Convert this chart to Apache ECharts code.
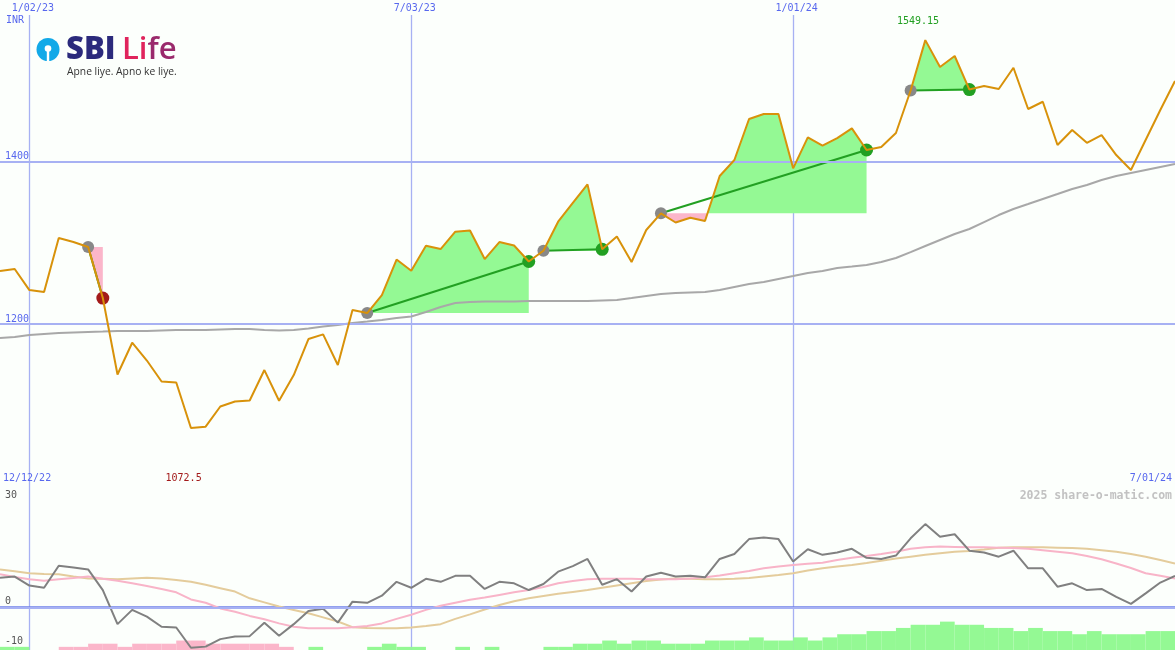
<!DOCTYPE html>
<html><head><meta charset="utf-8">
<script src="https://cdn.jsdelivr.net/npm/echarts@6/dist/echarts.min.js"></script>
<style>html,body{margin:0;padding:0;background:#fcfffc}#c{width:1175px;height:650px}</style>
</head><body><div id="c"></div>
<script>
// ---- categories (weekly, Mondays) ----
const weeks = ['12/19/22','12/26/22',
 '1/02/23','1/09/23','1/16/23','1/23/23','1/30/23','2/06/23','2/13/23','2/20/23','2/27/23','3/06/23','3/13/23','3/20/23','3/27/23',
 '4/03/23','4/10/23','4/17/23','4/24/23','5/01/23','5/08/23','5/15/23','5/22/23','5/29/23','6/05/23','6/12/23','6/19/23','6/26/23',
 '7/03/23','7/10/23','7/17/23','7/24/23','7/31/23','8/07/23','8/14/23','8/21/23','8/28/23','9/04/23','9/11/23','9/18/23','9/25/23',
 '10/02/23','10/09/23','10/16/23','10/23/23','10/30/23','11/06/23','11/13/23','11/20/23','11/27/23','12/04/23','12/11/23','12/18/23','12/25/23',
 '1/01/24','1/08/24','1/15/24','1/22/24','1/29/24','2/05/24','2/12/24','2/19/24','2/26/24','3/04/24','3/11/24','3/18/24','3/25/24',
 '4/01/24','4/08/24','4/15/24','4/22/24','4/29/24','5/06/24','5/13/24','5/20/24','5/27/24','6/03/24','6/10/24','6/17/24','6/24/24','7/01/24'];
const periodStart = '12/12/22';
const gridDates = ['1/02/23','7/03/23','1/01/24'];
const priceTicks = [1200, 1400];
const oscTicks = [30, 0, -10];
const oscZero = [0];
const currency = 'INR';

// ---- price (weekly close) ----
const price = [1265.4,1267.9,1242.0,1239.6,1305.9,1301.0,1294.9,1232.2,1138.2,1177.3,
 1155.4,1129.6,1128.4,1072.5,1074.1,1098.9,1105.0,1106.3,1143.7,1106.0,
 1137.6,1181.8,1187.6,1149.9,1217.5,1213.8,1235.9,1279.5,1265.8,1296.5,
 1292.4,1313.7,1315.2,1280.1,1301.0,1296.7,1277.1,1290.3,1326.0,1349.0,
 1371.9,1292.1,1307.8,1276.5,1315.8,1336.3,1325.0,1330.9,1326.8,1382.1,
 1401.8,1452.2,1458.3,1458.3,1391.6,1429.7,1419.4,1428.8,1440.7,1414.1,
 1417.8,1435.0,1487.2,1549.15,1516.1,1529.6,1488.4,1492.7,1489.0,1515.2,
 1464.5,1473.4,1420.2,1438.7,1423.0,1432.5,1407.9,1389.5,1426.4,1463.2,1498.9];

// ---- long moving average ----
const ma = [1183.1,1184.3,1186.8,1188.0,1189.2,1189.8,1190.4,1191.0,1191.7,1191.7,
 1191.7,1192.3,1192.9,1192.9,1192.9,1193.5,1194.1,1194.1,1192.9,1192.3,
 1192.9,1194.7,1197.2,1199.0,1201.5,1203.3,1205.2,1207.6,1209.5,1215.0,
 1221.2,1226.1,1227.3,1227.9,1227.9,1227.9,1228.5,1228.5,1228.5,1228.5,
 1228.5,1229.2,1229.8,1232.2,1234.7,1237.1,1238.4,1239.0,1239.6,1242.0,
 1245.8,1249.4,1251.9,1255.6,1259.2,1262.9,1265.4,1269.1,1270.9,1272.8,
 1276.5,1281.4,1288.7,1296.1,1303.5,1310.9,1317.0,1325.6,1334.2,1341.6,
 1347.7,1353.9,1360.0,1366.2,1371.1,1377.2,1382.1,1385.8,1389.5,1393.2,1396.9];

// ---- trades: [entry index, exit index] ----
const tradeEntries = [6, 25, 37, 45, 62];
const tradeExits   = [7, 36, 41, 59, 66];

// ---- lower panel oscillator ----
const osc = [8.0,8.3,5.9,5.3,11.2,10.7,10.2,4.7,-4.4,-0.6,
 -2.4,-5.1,-5.3,-10.7,-10.4,-8.4,-7.7,-7.6,-4.0,-7.5,
 -4.4,-0.9,-0.3,-4.0,1.6,1.3,3.2,6.9,5.3,7.7,
 6.9,8.5,8.5,5.0,6.9,6.5,4.7,6.3,9.6,11.1,
 13.0,6.1,7.6,4.3,8.3,9.3,8.3,8.5,8.1,13.0,
 14.3,18.3,18.7,18.3,12.3,15.6,14.1,14.7,15.7,13.3,
 13.0,13.9,18.5,22.3,18.9,19.6,15.2,14.7,13.6,15.2,
 10.5,10.5,5.6,6.5,4.7,5.0,2.9,1.0,3.8,6.7,8.5];
const oscSignal = [8.9,8.2,7.6,7.2,7.6,7.9,8.3,7.7,7.2,6.5,
 5.8,5.0,4.1,2.2,1.3,-0.2,-1.1,-2.2,-3.1,-4.2,
 -5.1,-5.5,-5.5,-5.5,-5.2,-4.9,-4.2,-3.0,-1.9,-0.6,
 0.5,1.3,2.1,2.7,3.4,4.1,4.7,5.5,6.5,7.1,
 7.6,7.7,7.7,7.7,7.6,7.6,7.6,7.8,8.1,8.6,
 9.2,9.8,10.5,11.0,11.4,11.7,12.0,12.7,13.3,13.8,
 14.3,14.9,15.7,16.1,16.3,16.2,16.1,16.1,16.0,15.9,
 15.7,15.3,14.9,14.5,13.8,12.9,11.8,10.6,9.2,8.5,7.8];
const oscSlow = [10.2,9.7,9.2,9.0,8.9,8.3,7.8,7.7,7.6,7.8,
 8.0,7.8,7.4,6.9,6.1,5.2,4.3,2.5,1.4,0.3,
 -0.6,-1.5,-2.6,-3.7,-5.2,-5.4,-5.5,-5.5,-5.3,-4.9,
 -4.4,-3.0,-1.8,-0.5,0.7,1.7,2.5,3.1,3.7,4.2,
 4.7,5.3,5.9,6.5,7.1,7.5,7.8,7.7,7.6,7.6,
 7.7,7.9,8.3,8.7,9.2,9.9,10.5,11.0,11.4,11.9,
 12.5,13.1,13.6,14.1,14.5,14.9,15.1,15.5,16.0,16.1,
 16.1,16.1,16.0,15.9,15.7,15.3,14.9,14.3,13.6,12.7,11.8];
// histogram (one bar per week, spanning to the next week)
const hist = [1,1,0,0,-1,-1,-2,-2,-1,-2,
 -2,-2,-3,-3,-2,-2,-2,-2,-2,-1,
 0,1,0,0,0,1,2,1,1,0,
 0,1,0,1,0,0,0,1,1,2,
 2,3,2,3,3,2,2,2,3,3,
 3,4,3,3,4,3,4,5,5,6,
 6,7,8,8,9,8,8,7,7,6,
 7,6,6,5,6,5,5,5,6,6];

const C = {
  blue:'#5868ee', grid:'#a7b1f3', sep:'#6f80ea', price:'#d8920a', ma:'#a8a8a8',
  green:'#94f994', pink:'#fbb6ca', tline:'#22a022', entry:'#888888', win:'#22a022', loss:'#a31a1a',
  osc:'#808080', sig:'#f8b4c8', slow:'#e4cc9c'
};
const mono = '"DejaVu Sans Mono", monospace';

const trades = tradeEntries.map((e, k) => [e, tradeExits[k]]);

const chart = echarts.init(document.getElementById('c'), null, {renderer:'canvas'});

function fillItem(params, api) {
  const t = trades[params.dataIndex];
  const L = price[t[0]];
  const pts = [];
  for (let i = t[0]; i <= t[1]; i++) pts.push(api.coord([i, price[i]]));
  const base = api.coord([t[0], L])[1];
  const up = [[pts[0][0], base]], dn = [[pts[0][0], base]];
  for (let j = 0; j < pts.length; j++) {
    const x = pts[j][0], y = pts[j][1];
    up.push([x, Math.min(y, base)]);
    dn.push([x, Math.max(y, base)]);
    if (j < pts.length - 1) {
      const x2 = pts[j+1][0], y2 = pts[j+1][1];
      if ((y - base) * (y2 - base) < 0) {
        const tt = (base - y) / (y2 - y);
        const xc = x + tt * (x2 - x);
        up.push([xc, base]); dn.push([xc, base]);
      }
    }
  }
  const last = pts[pts.length-1][0];
  up.push([last, base]); dn.push([last, base]);
  return {type:'group', children:[
    {type:'polygon', shape:{points:up}, style:{fill:C.green}},
    {type:'polygon', shape:{points:dn}, style:{fill:C.pink}}
  ]};
}
function tradeLineItem(params, api) {
  const t = trades[params.dataIndex];
  const a = api.coord([t[0], price[t[0]]]);
  const b = api.coord([t[1], price[t[1]]]);
  return {type:'line', shape:{x1:a[0], y1:a[1], x2:b[0], y2:b[1]}, style:{stroke:C.tline, lineWidth:2}};
}
function histItem(params, api) {
  const i = api.value(0), v = api.value(1);
  if (!v || i + 1 >= weeks.length) return null;
  const a = api.coord([i, 0]);
  const b = api.coord([i + 1, Math.abs(v)]);
  return {type:'rect', shape:{x:a[0], y:b[1], width:b[0]-a[0], height:a[1]-b[1]}, style:{fill: v > 0 ? C.green : C.pink}};
}

const showDate = (idx, val) => gridDates.indexOf(val) >= 0;

const option = {
  backgroundColor: '#fcfffc',
  animation: false,
  grid: [
    {left:0, right:0, top:15, height:472},
    {left:0, right:0, top:487, height:163}
  ],
  xAxis: [
    {type:'category', gridIndex:0, data:weeks, boundaryGap:false, position:'top',
     axisLine:{show:false}, axisTick:{show:false},
     axisLabel:{interval:showDate, color:C.blue, fontFamily:mono, fontSize:10, margin:2, padding:[0,0,0,7]},
     splitLine:{show:true, interval:showDate, lineStyle:{color:C.grid, width:1.3}}},
    {type:'category', gridIndex:1, data:weeks, boundaryGap:false, position:'top',
     axisLine:{show:true, lineStyle:{color:C.sep, width:2.5}}, axisTick:{show:false}, axisLabel:{show:false},
     splitLine:{show:true, interval:showDate, lineStyle:{color:C.grid, width:1.3}}}
  ],
  yAxis: [
    {type:'value', gridIndex:0, min:1000, max:1580, position:'left',
     axisLine:{show:false}, axisTick:{show:false}, splitLine:{show:false},
     axisLabel:{customValues:priceTicks, inside:true, margin:5, color:C.blue, fontFamily:mono, fontSize:10, verticalAlign:'bottom', align:'left',
       formatter: v => String(v)}},
    {type:'value', gridIndex:1, min:-11.3, max:32.2, position:'left',
     axisLine:{show:false}, axisTick:{show:false}, splitLine:{show:false},
     axisLabel:{customValues:oscTicks, inside:true, margin:5, color:'#555555', fontFamily:mono, fontSize:10, verticalAlign:'middle', align:'left',
       formatter: v => v === 0 ? '{z|0}' : (v < 0 ? '{n|' + v + '}' : '{p|' + v + '}'),
       rich:{z:{padding:[0,0,12,0], fontFamily:mono, fontSize:10, color:'#555555'},
             n:{padding:[0,0,8,0], fontFamily:mono, fontSize:10, color:'#555555'},
             p:{padding:[0,0,0,0], fontFamily:mono, fontSize:10, color:'#555555'}}}},
    {type:'value', gridIndex:1, min:0, max:51.7, show:false}
  ],
  series: [
    {name:'hgrid', type:'line', xAxisIndex:0, yAxisIndex:0, data:weeks.map(() => '-'), z:0, silent:true,
     markLine:{silent:true, symbol:'none', label:{show:false}, lineStyle:{color:C.grid, width:2, type:'solid'},
       data: priceTicks.map(v => ({yAxis:v}))}},
    {name:'fills', type:'custom', xAxisIndex:0, yAxisIndex:0, z:1, silent:true,
     data: trades.map(t => [t[0], price[t[0]]]), renderItem: fillItem},
    {name:'MA', type:'line', xAxisIndex:0, yAxisIndex:0, data:ma, symbol:'none', z:2,
     lineStyle:{color:C.ma, width:2}},
    {name:'trades', type:'custom', xAxisIndex:0, yAxisIndex:0, z:3, silent:true,
     data: trades.map(t => [t[0], price[t[0]]]), renderItem: tradeLineItem},
    {name:'entries', type:'scatter', xAxisIndex:0, yAxisIndex:0, z:4, symbolSize:12,
     itemStyle:{color:C.entry, opacity:1}, data: tradeEntries.map(i => [i, price[i]])},
    {name:'exits', type:'scatter', xAxisIndex:0, yAxisIndex:0, z:4, symbolSize:13,
     data: trades.map(t => ({value:[t[1], price[t[1]]], itemStyle:{color: price[t[1]] >= price[t[0]] ? C.win : C.loss, opacity:1}}))},
    {name:'Price', type:'line', xAxisIndex:0, yAxisIndex:0, data:price, symbol:'none', z:5,
     lineStyle:{color:C.price, width:2}},

    {name:'zero', type:'line', xAxisIndex:1, yAxisIndex:1, data:weeks.map(() => '-'), z:0, silent:true,
     markLine:{silent:true, symbol:'none', label:{show:false}, lineStyle:{color:C.grid, width:2, type:'solid'},
       data: oscZero.map(v => ({yAxis:v}))}},
    {name:'hist', type:'custom', xAxisIndex:1, yAxisIndex:2, z:1, silent:true,
     data: hist.map((v, i) => [i, v]), renderItem: histItem},
    {name:'slow', type:'line', xAxisIndex:1, yAxisIndex:1, data:oscSlow, symbol:'none', z:2,
     lineStyle:{color:C.slow, width:2}},
    {name:'signal', type:'line', xAxisIndex:1, yAxisIndex:1, data:oscSignal, symbol:'none', z:3,
     lineStyle:{color:C.sig, width:2}},
    {name:'osc', type:'line', xAxisIndex:1, yAxisIndex:1, data:osc, symbol:'none', z:4,
     lineStyle:{color:C.osc, width:2}}
  ]
};
chart.setOption(option);

// ---- annotations derived from the data ----
const pMax = Math.max(...price), pMin = Math.min(...price);
const iMax = price.indexOf(pMax), iMin = price.indexOf(pMin);
const px = i => chart.convertToPixel({xAxisIndex:0}, weeks[i]);
const step = px(1) - px(0);
const gTop = 15, gBot = 487;

chart.setOption({graphic: [
  {type:'text', left:6, top:15, style:{text:currency, fill:C.blue, font:'10px ' + mono}},
  {type:'text', x:3, y:gBot - 9, style:{text:periodStart, fill:C.blue, font:'10px ' + mono, verticalAlign:'middle'}},
  {type:'text', x:1172, y:gBot - 9, style:{text:weeks[weeks.length-1], fill:C.blue, font:'10px ' + mono, align:'right', verticalAlign:'middle'}},
  {type:'text', x:px(iMax) - step/2, y:gTop + 6, style:{text:String(pMax), fill:C.win, font:'10px ' + mono, align:'center', verticalAlign:'middle'}},
  {type:'text', x:px(iMin) - step/2, y:gBot - 9, style:{text:String(pMin), fill:C.loss, font:'10px ' + mono, align:'center', verticalAlign:'middle'}},
  {type:'text', x:1172, y:496, style:{text:'2025 share-o-matic.com', fill:'#c2c2c2', font:'bold 11.5px ' + mono, align:'right', verticalAlign:'middle'}},
  // logo
  {type:'group', x:0, y:0, children:[
    {type:'circle', shape:{cx:48, cy:49.5, r:11.5}, style:{fill:'#12a9e8'}},
    {type:'circle', shape:{cx:48, cy:48.5, r:3.3}, style:{fill:'#ffffff'}},
    {type:'rect', shape:{x:46.8, y:48.5, width:2.4, height:13}, style:{fill:'#ffffff'}},
    {type:'text', x:66, y:50, style:{text:'SBI', fill:'#2b2a7c', font:'800 31px "Open Sans"', verticalAlign:'middle'}},
    {type:'text', x:122, y:50, style:{text:'{a|Li}{b|fe}', verticalAlign:'middle',
      rich:{a:{fill:'#e0245c', fontFamily:'Open Sans', fontWeight:600, fontSize:31},
            b:{fill:'#9a2a6c', fontFamily:'Open Sans', fontWeight:600, fontSize:31}}}},
    {type:'text', x:67, y:72, style:{text:'Apne liye. Apno ke liye.', fill:'#333333', font:'10.3px "Open Sans"', verticalAlign:'middle'}}
  ]}
]});
</script></body></html>
